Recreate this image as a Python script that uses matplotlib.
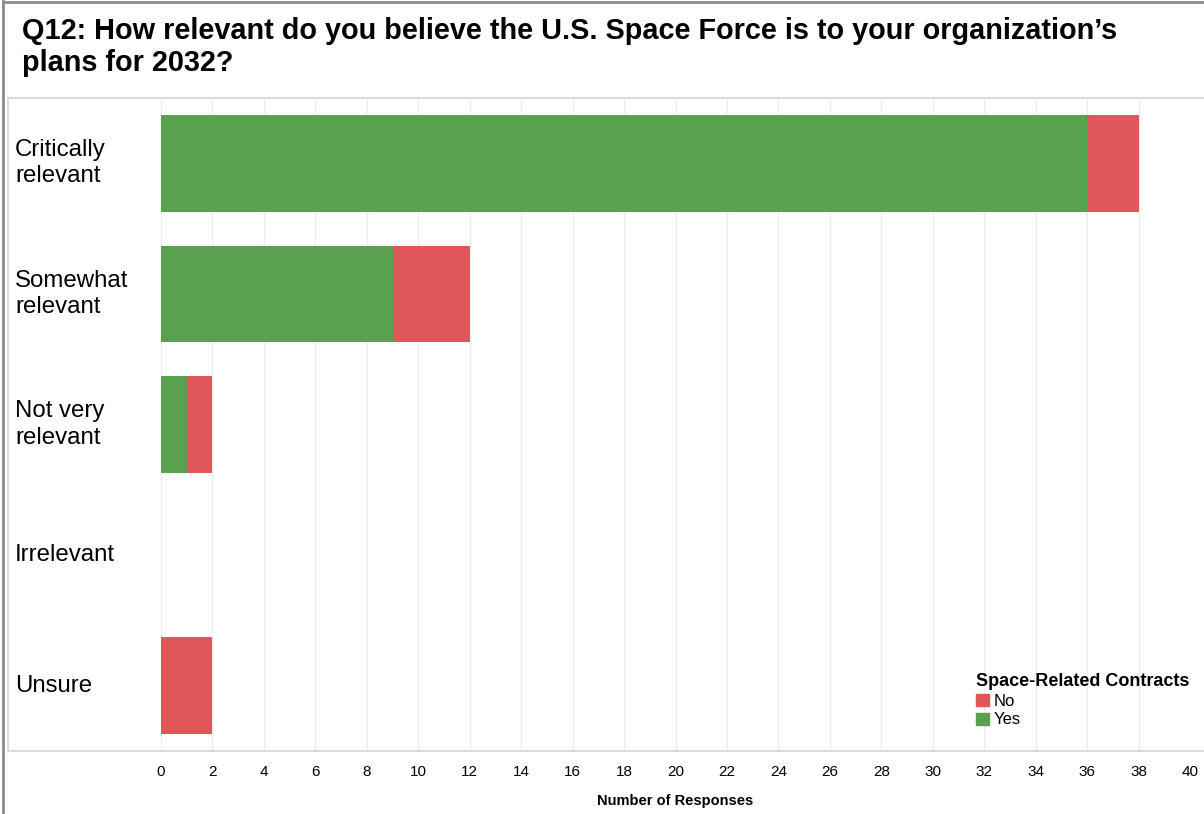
import numpy as np
import matplotlib
matplotlib.use('Agg')
from matplotlib import pyplot as plt
from matplotlib.lines import Line2D
from matplotlib.patches import Patch, Rectangle
import matplotlib.transforms as mtransforms

plt.rcParams['font.family'] = ['Liberation Sans', 'DejaVu Sans']

categories = ['Critically\nrelevant', 'Somewhat\nrelevant', 'Not very\nrelevant', 'Irrelevant', 'Unsure']
yes_vals = [36, 9, 1, 0, 0]
no_vals = [2, 3, 1, 0, 2]
xticks = list(range(0, 41, 2))

green = '#59A14F'
red = '#E15759'

W, H = 1204, 814
fig = plt.figure(figsize=(W / 100, H / 100), dpi=100)

def fx(px):
    return px / W

def fy(py):
    return 1 - py / H

ax = fig.add_axes([fx(161), fy(751), fx(1190) - fx(161), fy(98) - fy(751)])

y = np.arange(len(categories))
ax.barh(y, yes_vals, height=0.74, color=green, zorder=3)
ax.barh(y, no_vals, left=yes_vals, height=0.74, color=red, zorder=3)

ax.set_xlim(0, 40)
ax.set_ylim(len(categories) - 0.5, -0.5)
ax.set_xticks(xticks)
ax.set_xticklabels([str(t) for t in xticks], fontsize=11)
ax.tick_params(axis='x', length=0, pad=10)
ax.set_yticks([])
ax.grid(axis='x', color='#ECECEC', lw=1, zorder=0)
for s in ax.spines.values():
    s.set_visible(False)
ax.set_xlabel('Number of Responses', fontsize=10.5, fontweight='bold', labelpad=11)

# category labels at the left of the panel
trans = mtransforms.blended_transform_factory(fig.transFigure, ax.transData)
for i, c in enumerate(categories):
    ax.text(fx(15), i, c, transform=trans, ha='left', va='center',
            fontsize=17.3, linespacing=1.25)

# panel border and outer frame
fig.add_artist(Rectangle((fx(8), fy(751)), fx(1210) - fx(8), fy(98) - fy(751),
                         transform=fig.transFigure, fill=False, ec='#D4D4D4', lw=1.2))
fig.add_artist(Line2D([fx(3), fx(3)], [0, fy(1)], transform=fig.transFigure,
                      color='#8C8C8C', lw=2))
fig.add_artist(Line2D([fx(3), 1], [fy(1.5), fy(1.5)], transform=fig.transFigure,
                      color='#8C8C8C', lw=2))

fig.text(fx(22), fy(47), "Q12: How relevant do you believe the U.S. Space Force is to your organization\u2019s\nplans for 2032?",
         ha='left', va='center', fontsize=20.8, fontweight='bold', linespacing=1.2)

handles = [Patch(color=red, label='No'), Patch(color=green, label='Yes')]
leg = ax.legend(handles=handles, title='Space-Related Contracts', loc='upper left',
                bbox_to_anchor=(fx(976), fy(673)), bbox_transform=fig.transFigure,
                frameon=False, fontsize=12, handlelength=0.75, handleheight=0.75,
                handletextpad=0.3, labelspacing=0.2, borderpad=0, borderaxespad=0)
leg.get_title().set_fontweight('bold')
leg.get_title().set_fontsize(13)
leg._legend_box.align = 'left'
leg._legend_box.sep = 3

fig.savefig('out.png', dpi=100)
